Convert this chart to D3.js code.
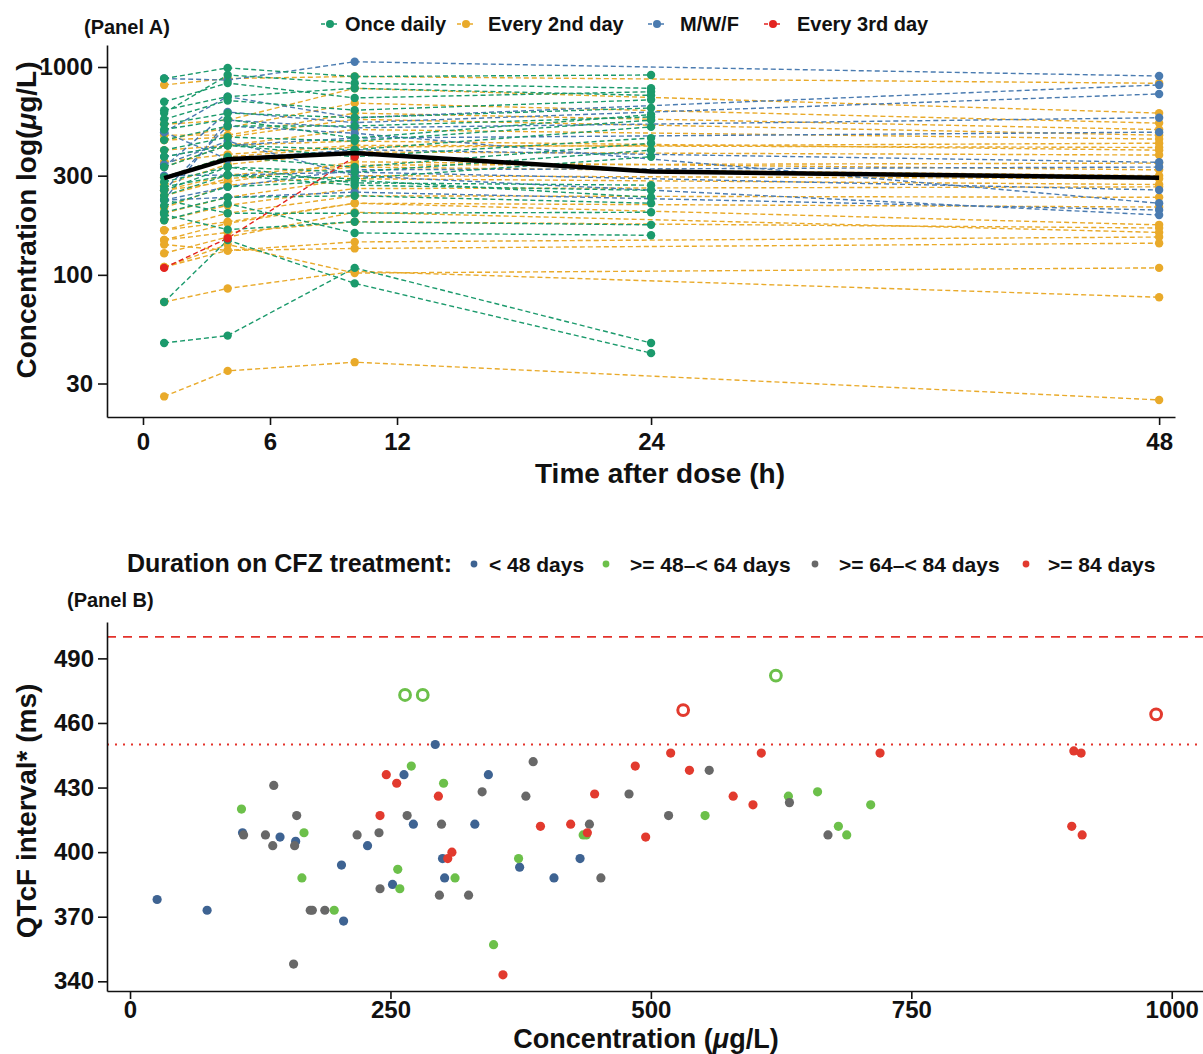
<!DOCTYPE html>
<html lang="en">
<head>
  <meta charset="UTF-8">
  <title>CFZ concentration and QTcF</title>
  <style>
    body { margin: 0; background: #fff; }
    svg text { font-family: 'Liberation Sans', Arial, sans-serif; font-weight: bold; fill: #111; }
    .axis path, .axis line { stroke: #111; stroke-width: 1.6; }
    .axis text { font-size: 24px; }
  </style>
</head>
<body>
<svg id="chart" width="1203" height="1054"></svg>
<script src="https://d3js.org/d3.v7.min.js"></script>
<script>
  // ---- Panel A: concentration by time after dose, one row per patient ----
  const onceTimes = [1, 4, 10, 24];
  const altTimes = [1, 4, 10, 48];
  const thirdTimes = [1, 4, 10];

  const onceDaily = [
    [880, 990, 900, 915], [600, 915, 835, 790], [680, 837, 710, 760],
    [620, 720, 790, 730], [560, 690, 620, 695], [530, 600, 570, 635],
    [500, 560, 455, 590], [445, 520, 520, 575], [398, 460, 440, 555],
    [370, 420, 400, 515], [330, 420, 370, 455], [295, 370, 330, 430],
    [280, 330, 312, 398], [265, 302, 290, 370], [255, 330, 277, 270],
    [240, 302, 270, 255], [215, 265, 285, 236], [200, 236, 240, 221],
    [229, 198, 198, 200], [183, 220, 159, 155], [195, 165, 180, 174],
    [74, 147, 91, 42], [47, 51, 108, 47]
  ];
  const every2nd = [
    [820, 880, 900, 835], [530, 555, 790, 600], [445, 510, 670, 537],
    [470, 470, 600, 500], [445, 460, 560, 470], [398, 420, 500, 450],
    [295, 370, 412, 430], [330, 420, 440, 398], [350, 380, 420, 410],
    [270, 340, 390, 377], [255, 302, 337, 345], [255, 280, 350, 320],
    [240, 290, 330, 300], [210, 270, 300, 290], [198, 236, 290, 272],
    [183, 216, 260, 265], [164, 198, 240, 236], [164, 180, 221, 212],
    [147, 177, 221, 174], [147, 160, 180, 168], [127, 152, 200, 160],
    [109, 131, 144, 152], [140, 131, 134, 142], [109, 140, 102, 108],
    [74, 86, 104, 78], [26, 34.5, 38, 25]
  ];
  const mwf = [
    [880, 865, 1060, 905], [486, 720, 570, 820], [330, 607, 540, 742],
    [229, 555, 510, 570], [370, 420, 455, 486], [486, 360, 400, 348],
    [229, 265, 320, 330], [300, 302, 312, 256], [255, 520, 480, 221],
    [229, 236, 250, 205], [340, 440, 300, 194]
  ];
  const every3rd = [[108, 150, 370]];

  const meanTimes = [1, 4, 10, 24, 48];
  const meanConc = [292, 360, 386, 314, 293];

  const regimens = ['Once daily', 'Every 2nd day', 'M/W/F', 'Every 3rd day'];
  const regimenColors = ['#1b9a6c', '#e9aa2a', '#4a7bb0', '#e3231f'];

  // ---- Panel B: concentration vs QTcF, by duration on treatment ----
  const durations = ['< 48 days', '>= 48\u2013< 64 days', '>= 64\u2013< 84 days', '>= 84 days'];
  const durationColors = ['#3e6392', '#6cc04a', '#686868', '#e23a2e'];

  const durUnder48 = [
    [26, 378], [74, 373], [108, 409], [144, 407], [159, 405], [203, 394], [205, 368],
    [228, 403], [252, 385], [263, 436], [272, 413], [293, 450], [300, 397], [302, 388],
    [331, 413], [344, 436], [374, 393], [407, 388], [432, 397]
  ];
  const dur48to64 = [
    [107, 420], [167, 409], [165, 388], [196, 373], [257, 392], [259, 383], [270, 440],
    [301, 432], [312, 388], [349, 357], [373, 397], [435, 408], [438, 408], [552, 417],
    [632, 426], [660, 428], [680, 412], [688, 408], [711, 422]
  ];
  const dur64to84 = [
    [109, 408], [130, 408], [138, 431], [137, 403], [160, 417], [158, 403], [157, 348],
    [173, 373], [175, 373], [187, 373], [218, 408], [239, 409], [240, 383], [266, 417],
    [299, 413], [297, 380], [325, 380], [338, 428], [380, 426], [387, 442], [441, 413],
    [452, 388], [479, 427], [517, 417], [556, 438], [633, 423], [670, 408]
  ];
  const dur84plus = [
    [240, 417], [246, 436], [256, 432], [296, 426], [305, 397], [309, 400], [358, 343],
    [394, 412], [423, 413], [439, 409], [446, 427], [485, 440], [495, 407], [519, 446],
    [537, 438], [579, 426], [598, 422], [606, 446], [720, 446], [906, 447], [913, 446],
    [904, 412], [914, 408]
  ];
  // points above 450 ms drawn as open circles
  const open48to64 = [[264, 473], [281, 473], [620, 482]];
  const open84plus = [[531, 466], [985, 464]];

  const refLines = [500, 450];

  const svg = d3.select('#chart');

  // ================= Panel A =================
  const xA = d3.scaleLinear().domain([-1.7, 48.75]).range([107, 1175]);
  const yA = d3.scaleLog().domain([20.7, 1276]).range([417, 45]);

  const subjects = [];
  every2nd.forEach(v => subjects.push({ times: altTimes, vals: v, color: regimenColors[1] }));
  mwf.forEach(v => subjects.push({ times: altTimes, vals: v, color: regimenColors[2] }));
  onceDaily.forEach(v => subjects.push({ times: onceTimes, vals: v, color: regimenColors[0] }));
  every3rd.forEach(v => subjects.push({ times: thirdTimes, vals: v, color: regimenColors[3] }));

  const lineA = d3.line().x(d => xA(d[0])).y(d => yA(d[1]));

  const gA = svg.append('g');
  gA.selectAll('path.subj')
    .data(subjects)
    .enter().append('path')
    .attr('class', 'subj')
    .attr('d', s => lineA(s.vals.map((v, i) => [s.times[i], v])))
    .attr('fill', 'none')
    .attr('stroke', s => s.color)
    .attr('stroke-width', 1.4)
    .attr('stroke-dasharray', '5,3');

  subjects.forEach(s => {
    gA.selectAll(null)
      .data(s.vals.map((v, i) => [s.times[i], v]))
      .enter().append('circle')
      .attr('cx', d => xA(d[0]))
      .attr('cy', d => yA(d[1]))
      .attr('r', 4.2)
      .attr('fill', s.color);
  });

  gA.append('path')
    .attr('d', lineA(meanTimes.map((t, i) => [t, meanConc[i]])))
    .attr('fill', 'none')
    .attr('stroke', '#000')
    .attr('stroke-width', 4.5)
    .attr('stroke-linejoin', 'round');

  svg.append('g').attr('class', 'axis')
    .attr('transform', 'translate(0,417)')
    .call(d3.axisBottom(xA).tickValues([0, 6, 12, 24, 48]).tickSize(8).tickSizeOuter(0).tickPadding(8));
  svg.append('g').attr('class', 'axis')
    .attr('transform', 'translate(107,0)')
    .call(d3.axisLeft(yA).tickValues([30, 100, 300, 1000]).tickFormat(d3.format('d'))
      .tickSize(9).tickSizeOuter(0).tickPadding(5));

  svg.append('text').attr('x', 660).attr('y', 483).attr('text-anchor', 'middle')
    .style('font-size', '28px').text('Time after dose (h)');
  const yTitleA = svg.append('text')
    .attr('transform', 'translate(36,220) rotate(-90)')
    .attr('text-anchor', 'middle').style('font-size', '28px');
  yTitleA.append('tspan').text('Concentration log(');
  yTitleA.append('tspan').style('font-style', 'italic').text('\u03bc');
  yTitleA.append('tspan').text('g/L)');

  svg.append('text').attr('x', 84).attr('y', 34).style('font-size', '20px').text('(Panel A)');

  const legA = [{ dot: 330, text: 345 }, { dot: 466, text: 488 }, { dot: 657, text: 680 }, { dot: 773, text: 797 }];
  legA.forEach((p, i) => {
    svg.append('line').attr('x1', p.dot - 9).attr('x2', p.dot + 9).attr('y1', 24).attr('y2', 24)
      .attr('stroke', regimenColors[i]).attr('stroke-width', 1.5).attr('stroke-dasharray', '4,2');
    svg.append('circle').attr('cx', p.dot).attr('cy', 24).attr('r', 4).attr('fill', regimenColors[i]);
    svg.append('text').attr('x', p.text).attr('y', 31).style('font-size', '20px').text(regimens[i]);
  });

  // ================= Panel B =================
  const xB = d3.scaleLinear().domain([-22.1, 1030]).range([107, 1203]);
  const yB = d3.scaleLinear().domain([335.5, 506.9]).range([991, 622]);

  svg.append('line').attr('x1', 107).attr('x2', 1203)
    .attr('y1', yB(refLines[0])).attr('y2', yB(refLines[0]))
    .attr('stroke', '#e3322b').attr('stroke-width', 1.6).attr('stroke-dasharray', '9,7');
  svg.append('line').attr('x1', 107).attr('x2', 1203)
    .attr('y1', yB(refLines[1])).attr('y2', yB(refLines[1]))
    .attr('stroke', '#e3322b').attr('stroke-width', 1.8).attr('stroke-dasharray', '2,6');

  const groupsB = [durUnder48, dur48to64, dur64to84, dur84plus];
  groupsB.forEach((pts, i) => {
    svg.append('g').selectAll('circle')
      .data(pts)
      .enter().append('circle')
      .attr('cx', d => xB(d[0]))
      .attr('cy', d => yB(d[1]))
      .attr('r', 4.6)
      .attr('fill', durationColors[i]);
  });
  [[open48to64, 1], [open84plus, 3]].forEach(([pts, ci]) => {
    svg.append('g').selectAll('circle')
      .data(pts)
      .enter().append('circle')
      .attr('cx', d => xB(d[0]))
      .attr('cy', d => yB(d[1]))
      .attr('r', 5.4)
      .attr('fill', 'none')
      .attr('stroke', durationColors[ci])
      .attr('stroke-width', 3);
  });

  svg.append('g').attr('class', 'axis')
    .attr('transform', 'translate(0,991)')
    .call(d3.axisBottom(xB).tickValues([0, 250, 500, 750, 1000]).tickFormat(d3.format('d'))
      .tickSize(8).tickSizeOuter(0).tickPadding(2));
  svg.append('g').attr('class', 'axis')
    .attr('transform', 'translate(107,0)')
    .call(d3.axisLeft(yB).tickValues([340, 370, 400, 430, 460, 490]).tickSize(9).tickSizeOuter(0).tickPadding(4));

  const xTitleB = svg.append('text').attr('x', 646).attr('y', 1048).attr('text-anchor', 'middle')
    .style('font-size', '27px');
  xTitleB.append('tspan').text('Concentration (');
  xTitleB.append('tspan').style('font-style', 'italic').text('\u03bc');
  xTitleB.append('tspan').text('g/L)');
  svg.append('text')
    .attr('transform', 'translate(36,811) rotate(-90)')
    .attr('text-anchor', 'middle').style('font-size', '28px')
    .text('QTcF interval* (ms)');

  svg.append('text').attr('x', 67).attr('y', 607).style('font-size', '20px').text('(Panel B)');
  svg.append('text').attr('x', 127).attr('y', 572).style('font-size', '25px').text('Duration on CFZ treatment:');
  const legB = [{ dot: 474, text: 489 }, { dot: 606, text: 630 }, { dot: 815, text: 839 }, { dot: 1026, text: 1048 }];
  legB.forEach((p, i) => {
    svg.append('circle').attr('cx', p.dot).attr('cy', 564).attr('r', 3.4).attr('fill', durationColors[i]);
    svg.append('text').attr('x', p.text).attr('y', 572).style('font-size', '21px').text(durations[i]);
  });
</script>
</body>
</html>
